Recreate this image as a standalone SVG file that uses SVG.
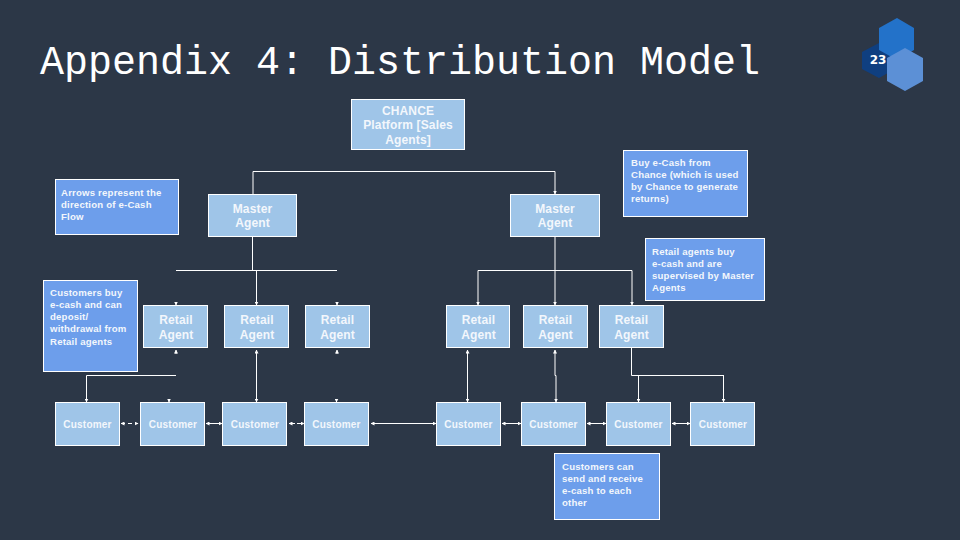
<svg xmlns="http://www.w3.org/2000/svg" width="960" height="540" viewBox="0 0 960 540">
<style>
.n{fill:#9fc5e8;stroke:#fff;stroke-width:1}
.b{fill:#6d9eeb;stroke:#fff;stroke-width:1}
text{font-family:"Liberation Sans",Arial,sans-serif;fill:#f3f7fc;font-weight:700}
.t{font-size:12px;text-anchor:middle;letter-spacing:.15px}
.c{font-size:10px;text-anchor:middle;letter-spacing:.2px}
.s{font-size:9.6px;letter-spacing:.2px}
.l{fill:none;stroke:#fff;stroke-width:1}
.a{fill:#fff;stroke:none}
</style>
<defs>
<marker id="e" markerWidth="4" markerHeight="4" refX="3.5" refY="2" orient="auto-start-reverse" markerUnits="userSpaceOnUse"><path class="a" d="M0 0L4 2L0 4Z"/></marker>
</defs>
<rect width="960" height="540" fill="#2c3747"/>
<text x="40" y="74" style="font-family:'Liberation Mono','Courier New',monospace;font-size:40px;font-weight:400;fill:#fff">Appendix 4: Distribution Model</text>
<g id="page-badge">
<polygon points="879,43 895,52 895,69 879,78 862,69 862,52" fill="#0f3f80"/>
<polygon points="897,18 914,28 914,50 897,60 879,50 879,28" fill="#2372c9"/>
<polygon points="905,48 923,58 923,81 905,91 887,81 887,58" fill="#5c90d6"/>
<text x="878" y="64" style="font-size:12px;text-anchor:middle;fill:#fff;font-family:'DejaVu Sans',sans-serif">23</text>
</g>
<g id="connectors" class="l">
<path class="l" marker-end="url(#e)" d="M253 194V171.500H555V194"/>
<path class="l" d="M252.500 237V270.500M176 270.500H337"/>
<path class="l" marker-end="url(#e)" d="M256.500 270.500V305"/>
<path class="l" marker-end="url(#e)" d="M176 302V305"/>
<path class="l" marker-end="url(#e)" d="M337 302V305"/>
<path class="l" marker-end="url(#e)" d="M176 354V350"/>
<path class="l" marker-end="url(#e)" d="M337 354V350"/>
<path class="l" marker-start="url(#e)" marker-end="url(#e)" d="M256.500 350V402"/>
<path class="l" marker-end="url(#e)" d="M176 375.500H86.500V402"/>
<path class="l" marker-end="url(#e)" d="M169 399V402"/>
<path class="l" marker-end="url(#e)" d="M336.500 399V402"/>
<path class="l" d="M555 237V270.500M478 270.500H632"/>
<path class="l" marker-end="url(#e)" d="M478 270.500V305"/>
<path class="l" marker-end="url(#e)" d="M555 270.500V305"/>
<path class="l" marker-end="url(#e)" d="M632 270.500V305"/>
<path class="l" marker-start="url(#e)" marker-end="url(#e)" d="M467.500 350V402"/>
<path class="l" marker-start="url(#e)" marker-end="url(#e)" d="M555 350V375.500H556V402"/>
<path class="l" d="M631.500 348V375.500H724"/>
<path class="l" marker-end="url(#e)" d="M638.500 375.500V402"/>
<path class="l" marker-end="url(#e)" d="M723.500 375.500V402"/>
<path class="l" stroke-dasharray="4 3" marker-start="url(#e)" marker-end="url(#e)" d="M121 423.500H138"/>
<path class="l" marker-start="url(#e)" marker-end="url(#e)" d="M206 423.500H222"/>
<path class="l" stroke-dasharray="6 2" marker-start="url(#e)" marker-end="url(#e)" d="M289 423.500H304"/>
<path class="l" marker-start="url(#e)" marker-end="url(#e)" d="M371 423.500H436"/>
<path class="l" marker-start="url(#e)" marker-end="url(#e)" d="M502 423.500H521"/>
<path class="l" marker-start="url(#e)" marker-end="url(#e)" d="M587 423.500H606"/>
<path class="l" marker-start="url(#e)" marker-end="url(#e)" d="M672 423.500H690"/>
</g>
<g id="chance"><rect class="n" x="351.500" y="99.500" width="113" height="50"/><text class="t" x="408" y="115">CHANCE</text><text class="t" x="408" y="129">Platform [Sales</text><text class="t" x="408" y="144">Agents]</text></g>
<g id="note-buy"><rect class="b" x="623.500" y="150.500" width="124" height="66"/><text class="s" x="631" y="166">Buy e-Cash from</text><text class="s" x="631" y="178">Chance (which is used</text><text class="s" x="631" y="190">by Chance to generate</text><text class="s" x="631" y="202">returns)</text></g>
<g id="note-arrows"><rect class="b" x="55.500" y="179.500" width="123" height="55"/><text class="s" x="61" y="196">Arrows represent the</text><text class="s" x="61" y="208">direction of e-Cash</text><text class="s" x="61" y="220">Flow</text></g>
<g id="master-left"><rect class="n" x="208.500" y="194.500" width="88" height="42"/><text class="t" x="252.500" y="213">Master</text><text class="t" x="252.500" y="227">Agent</text></g>
<g id="master-right"><rect class="n" x="510.500" y="194.500" width="89" height="42"/><text class="t" x="555" y="213">Master</text><text class="t" x="555" y="227">Agent</text></g>
<g id="note-retail"><rect class="b" x="645.500" y="238.500" width="119" height="62"/><text class="s" x="652" y="255">Retail agents buy</text><text class="s" x="652" y="267">e-cash and are</text><text class="s" x="652" y="279">supervised by Master</text><text class="s" x="652" y="291">Agents</text></g>
<g id="note-customers"><rect class="b" x="43.500" y="280.500" width="94" height="91"/><text class="s" x="50" y="296">Customers buy</text><text class="s" x="50" y="308">e-cash and can</text><text class="s" x="50" y="320">deposit/</text><text class="s" x="50" y="332">withdrawal from</text><text class="s" x="50" y="345">Retail agents</text></g>
<g id="retail-1"><rect class="n" x="143.500" y="305.500" width="64" height="42"/><text class="t" x="176" y="324">Retail</text><text class="t" x="176" y="339">Agent</text></g>
<g id="retail-2"><rect class="n" x="224.500" y="305.500" width="64" height="42"/><text class="t" x="257" y="324">Retail</text><text class="t" x="257" y="339">Agent</text></g>
<g id="retail-3"><rect class="n" x="305.500" y="305.500" width="64" height="42"/><text class="t" x="337.500" y="324">Retail</text><text class="t" x="337.500" y="339">Agent</text></g>
<g id="retail-4"><rect class="n" x="446.500" y="305.500" width="63" height="42"/><text class="t" x="478.500" y="324">Retail</text><text class="t" x="478.500" y="339">Agent</text></g>
<g id="retail-5"><rect class="n" x="523.500" y="305.500" width="64" height="42"/><text class="t" x="555.500" y="324">Retail</text><text class="t" x="555.500" y="339">Agent</text></g>
<g id="retail-6"><rect class="n" x="599.500" y="305.500" width="64" height="42"/><text class="t" x="631.500" y="324">Retail</text><text class="t" x="631.500" y="339">Agent</text></g>
<g id="customer-1"><rect class="n" x="55.500" y="402.500" width="64" height="43"/><text class="c" x="87.500" y="428">Customer</text></g>
<g id="customer-2"><rect class="n" x="140.500" y="402.500" width="64" height="43"/><text class="c" x="173" y="428">Customer</text></g>
<g id="customer-3"><rect class="n" x="222.500" y="402.500" width="64" height="43"/><text class="c" x="255" y="428">Customer</text></g>
<g id="customer-4"><rect class="n" x="304.500" y="402.500" width="64" height="43"/><text class="c" x="336.500" y="428">Customer</text></g>
<g id="customer-5"><rect class="n" x="436.500" y="402.500" width="64" height="43"/><text class="c" x="468.500" y="428">Customer</text></g>
<g id="customer-6"><rect class="n" x="521.500" y="402.500" width="64" height="43"/><text class="c" x="553.500" y="428">Customer</text></g>
<g id="customer-7"><rect class="n" x="606.500" y="402.500" width="64" height="43"/><text class="c" x="638.500" y="428">Customer</text></g>
<g id="customer-8"><rect class="n" x="690.500" y="402.500" width="64" height="43"/><text class="c" x="723" y="428">Customer</text></g>
<g id="note-send"><rect class="b" x="554.500" y="453.500" width="105" height="66"/><text class="s" x="562" y="470">Customers can</text><text class="s" x="562" y="482">send and receive</text><text class="s" x="562" y="494">e-cash to each</text><text class="s" x="562" y="506">other</text></g>
</svg>
